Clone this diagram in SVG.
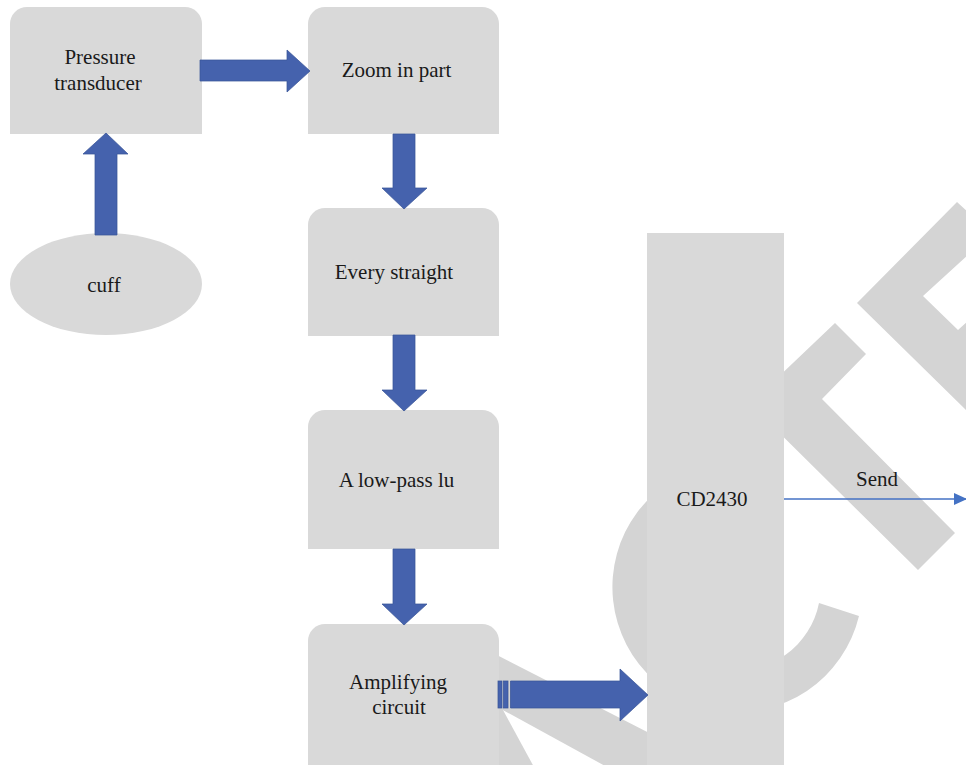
<svg xmlns="http://www.w3.org/2000/svg" width="966" height="765" viewBox="0 0 966 765">
  <style>
    .box { fill: #d9d9d9; }
    .mark { fill: #d4d4d4; }
    .lbl { font-family: "Liberation Serif", "DejaVu Serif", serif; font-size: 21px; fill: #1a1a1a; text-anchor: middle; }
    .blk { fill: #4562ad; stroke: #3a5598; stroke-width: 0.75; }
    .thin { stroke: #4472c4; stroke-width: 1.5; fill: none; }
  </style>
  <defs>
    <marker id="tri" markerWidth="13" markerHeight="12" refX="12" refY="6" orient="auto" markerUnits="userSpaceOnUse">
      <path d="M0,0 L13,6 L0,12 Z" fill="#4472c4"/>
    </marker>
  </defs>

  <rect width="966" height="765" fill="#ffffff"/>

  <!-- background shapes -->
  <g id="backdrop">
    <path class="mark" d="M738,462 A125,125 0 1 0 859,616 L819,603 A83,83 0 1 1 738,504 Z"/>
    <polygon class="mark" points="835,323 866,354 822,399 955,533 918,570 750,404"/>
    <polygon class="mark" points="857,303 957,202 970,214 970,253 923,296 958,330 970,319 970,414"/>
    <polygon class="mark" points="450,631 700,759 700,818 450,681"/>
    <polygon class="mark" points="470,652 503,710 541,780 470,780"/>
  </g>

  <!-- nodes -->
  <g id="pressure">
    <path class="box" d="M10,24 A17,17 0 0 1 27,7 H185 A17,17 0 0 1 202,24 V134 H10 Z"/>
    <text class="lbl" x="100" y="64">Pressure</text>
    <text class="lbl" x="98" y="90">transducer</text>
  </g>
  <g id="cuff">
    <ellipse class="box" cx="106" cy="284" rx="96" ry="51"/>
    <text class="lbl" x="104" y="292">cuff</text>
  </g>
  <g id="zoom">
    <path class="box" d="M308,24 A17,17 0 0 1 325,7 H482 A17,17 0 0 1 499,24 V134 H308 Z"/>
    <text class="lbl" x="396.5" y="77">Zoom in part</text>
  </g>
  <g id="straight">
    <path class="box" d="M308,225 A17,17 0 0 1 325,208 H482 A17,17 0 0 1 499,225 V336 H308 Z"/>
    <text class="lbl" x="394" y="279">Every straight</text>
  </g>
  <g id="lowpass">
    <path class="box" d="M308,427 A17,17 0 0 1 325,410 H482 A17,17 0 0 1 499,427 V549 H308 Z"/>
    <text class="lbl" x="396.5" y="487">A low-pass lu</text>
  </g>
  <g id="amplifier">
    <path class="box" d="M308,641 A17,17 0 0 1 325,624 H482 A17,17 0 0 1 499,641 V770 H308 Z"/>
    <text class="lbl" x="398" y="689">Amplifying</text>
    <text class="lbl" x="399" y="714">circuit</text>
  </g>
  <g id="cd2430">
    <rect class="box" x="647" y="233" width="137" height="537"/>
    <text class="lbl" x="712" y="506">CD2430</text>
  </g>

  <!-- connectors -->
  <g id="connectors">
    <polygon class="blk" points="95,235 95,154 83,154 106,133 128,154 117,154 117,235"/>
    <polygon class="blk" points="200,60 287,60 287,50 310,71 287,92 287,81 200,81"/>
    <polygon class="blk" points="393,134 415,134 415,188 427,188 404,209 382,188 393,188"/>
    <polygon class="blk" points="393,335 415,335 415,390 427,390 404,411 382,390 393,390"/>
    <polygon class="blk" points="393,549 415,549 415,604 427,604 404,625 382,604 393,604"/>
    <rect class="blk" x="498" y="681" width="4" height="27"/>
    <rect class="blk" x="503.5" y="681" width="4.5" height="27"/>
    <polygon class="blk" points="510.5,681 620,681 620,669 648,695 620,721 620,708 510.5,708"/>
    <line class="thin" x1="784" y1="499" x2="966" y2="499" marker-end="url(#tri)"/>
    <text class="lbl" x="877" y="486">Send</text>
  </g>
</svg>
